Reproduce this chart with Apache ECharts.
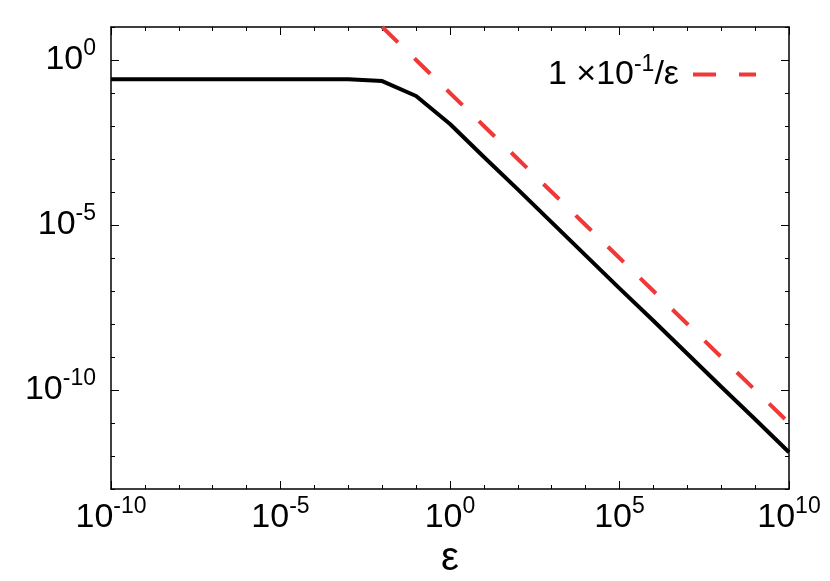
<!DOCTYPE html>
<html><head><meta charset="utf-8">
<script src="https://cdn.jsdelivr.net/npm/echarts@6/dist/echarts.min.js"></script>
<style>html,body{margin:0;padding:0;background:#fff}#c{width:830px;height:581px}</style>
</head><body><div id="c"></div>
<script>
// ---- data ----
const epsilon = [1e-10,1e-9,1e-8,1e-7,1e-6,1e-5,1e-4,1e-3,1e-2,1e-1,1e0,1e1,1e2,1e3,1e4,1e5,1e6,1e7,1e8,1e9,1e10];
const responseValues = [0.26,0.26,0.26,0.26,0.26,0.26,0.26,0.26,0.23,0.081,1.15e-2,1.15e-3,1.2e-4,1.2e-5,1.2e-6,1.2e-7,1.25e-8,1.25e-9,1.25e-10,1.3e-11,1.3e-12];
const refEpsilon = [1e-2,1e-1,1e0,1e1,1e2,1e3,1e4,1e5,1e6,1e7,1e8,1e9,1e10];
const refValues = [1e1,1e0,1e-1,1e-2,1e-3,1e-4,1e-5,1e-6,1e-7,1e-8,1e-9,1e-10,1e-11];
const xLabelExponents = [-10,-5,0,5,10];
const yLabelExponents = [-10,-5,0];
const refName = '1 ×10^-1/ε';

const FONT = '"Liberation Sans", Arial, Helvetica, sans-serif';
const RED = '#f03838';
const rich = {
  b: {fontSize: 34, fontFamily: FONT, color: '#000'},
  s: {fontSize: 23, fontFamily: FONT, color: '#000', padding: [0,0,22,0]}
};
function fmt(list){
  return function(v){
    const e = Math.round(Math.log10(v));
    return list.indexOf(e) >= 0 ? '{b|10}{s|' + e + '}' : '';
  };
}
const line = {lineStyle: {color: '#000', width: 1.5}};
const XMIN = 1e-10, XMAX = 1e10, YMIN = 1e-13, YMAX = 1e1;

const chart = echarts.init(document.getElementById('c'));
chart.setOption({
  animation: false,
  backgroundColor: '#fff',
  grid: {left: 111, right: 41, top: 27, bottom: 92, containLabel: false, outerBoundsMode: 'none'},
  legend: {
    data: ['ref'],
    right: 69, top: 48,
    align: 'right',
    itemWidth: 63, itemHeight: 4,
    icon: 'path://M0,0H23V4H0ZM46,0H63V4H46Z',
    itemStyle: {color: RED},
    formatter: function(){ return '{b|1 ×10}{s|-1}{c|/ε}'; },
    textStyle: {fontSize: 34, fontFamily: FONT, rich: {
      b: {fontSize: 34, fontFamily: FONT, color: '#000'},
      s: {fontSize: 23, fontFamily: FONT, color: '#000', padding: [0,0,20,0]},
      c: {fontSize: 34, fontFamily: FONT, color: '#000', padding: [0,9,0,0]}
    }}
  },
  xAxis: [
    {type: 'log', logBase: 10, min: XMIN, max: XMAX, interval: 1, position: 'bottom',
     axisLine: line, splitLine: {show: false},
     axisTick: {inside: true, length: 4, lineStyle: {color: '#000', width: 1}},
     axisLabel: {formatter: fmt(xLabelExponents), rich: rich, fontSize: 34, fontFamily: FONT, margin: 6, hideOverlap: false},
     name: 'ε', nameLocation: 'middle', nameGap: 50,
     nameTextStyle: {fontSize: 40, fontFamily: FONT, color: '#000'}},
    {type: 'log', logBase: 10, min: XMIN, max: XMAX, interval: 1, position: 'top',
     axisLine: line, splitLine: {show: false},
     axisTick: {inside: true, length: 4, lineStyle: {color: '#000', width: 1}},
     axisLabel: {show: false}},
    {type: 'log', logBase: 10, min: XMIN, max: XMAX, interval: 5, position: 'bottom',
     axisLine: {show: false}, splitLine: {show: false},
     axisTick: {inside: true, length: 8, lineStyle: {color: '#000', width: 1}},
     axisLabel: {show: false}},
    {type: 'log', logBase: 10, min: XMIN, max: XMAX, interval: 5, position: 'top',
     axisLine: {show: false}, splitLine: {show: false},
     axisTick: {inside: true, length: 8, lineStyle: {color: '#000', width: 1}},
     axisLabel: {show: false}}
  ],
  yAxis: [
    {type: 'log', logBase: 10, min: YMIN, max: YMAX, interval: 1, position: 'left',
     axisLine: line, splitLine: {show: false},
     axisTick: {inside: true, length: 4, lineStyle: {color: '#000', width: 1}},
     axisLabel: {formatter: fmt(yLabelExponents), rich: rich, fontSize: 34, fontFamily: FONT, margin: 15, hideOverlap: false}},
    {type: 'log', logBase: 10, min: YMIN, max: YMAX, interval: 1, position: 'right',
     axisLine: line, splitLine: {show: false},
     axisTick: {inside: true, length: 4, lineStyle: {color: '#000', width: 1}},
     axisLabel: {show: false}},
    {type: 'log', logBase: 10, min: YMIN, max: YMAX, position: 'left',
     axisLine: {show: false}, splitLine: {show: false},
     axisTick: {inside: true, length: 8, customValues: [1e-10,1e-5,1], lineStyle: {color: '#000', width: 1}},
     axisLabel: {show: false}},
    {type: 'log', logBase: 10, min: YMIN, max: YMAX, position: 'right',
     axisLine: {show: false}, splitLine: {show: false},
     axisTick: {inside: true, length: 8, customValues: [1e-10,1e-5,1], lineStyle: {color: '#000', width: 1}},
     axisLabel: {show: false}}
  ],
  series: [
    {name: 'response', type: 'line', xAxisIndex: 0, yAxisIndex: 0, showSymbol: false, symbol: 'none',
     lineStyle: {color: '#000', width: 4}, itemStyle: {color: '#000'},
     data: epsilon.map((x,i) => [x, responseValues[i]])},
    {name: 'ref', type: 'line', xAxisIndex: 0, yAxisIndex: 0, showSymbol: false, symbol: 'none',
     lineStyle: {color: RED, width: 4, type: [22,23]}, itemStyle: {color: RED},
     data: refEpsilon.map((x,i) => [x, refValues[i]])}
  ]
});
</script></body></html>
